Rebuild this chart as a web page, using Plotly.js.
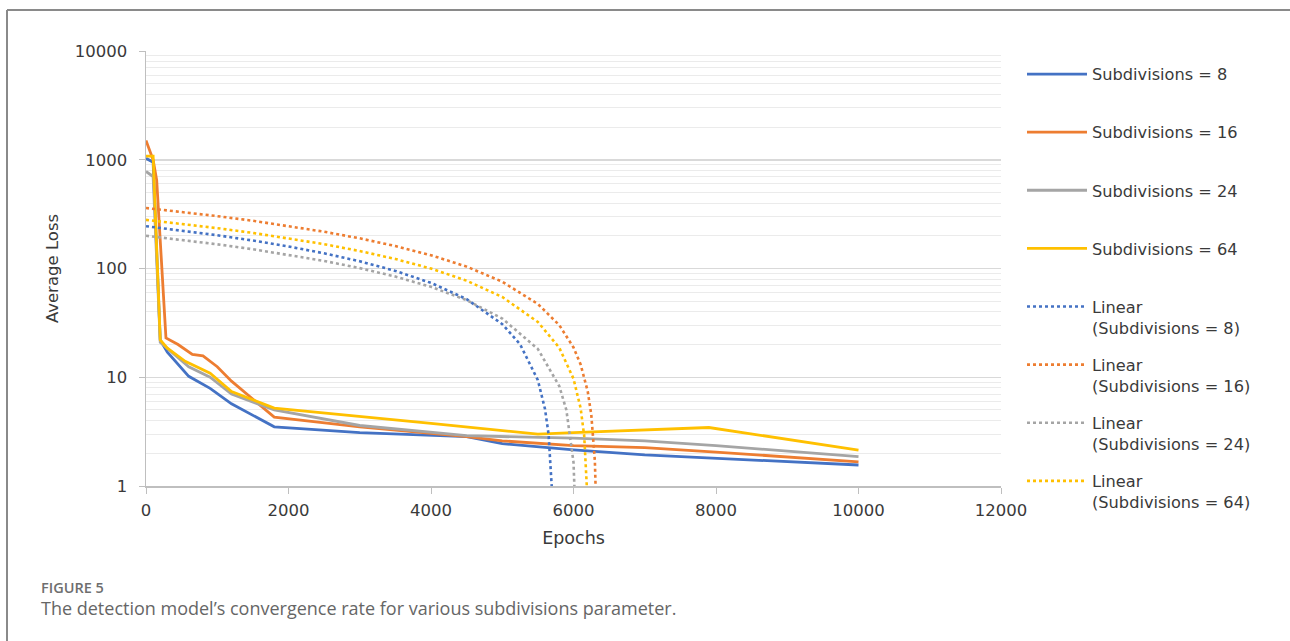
<!DOCTYPE html>
<html>
<head>
<meta charset="utf-8">
<script src="https://cdn.plot.ly/plotly-3.0.1.min.js"></script>
<style>
  html, body { margin: 0; padding: 0; background: #fff; }
  #chart { width: 1290px; height: 641px; }
</style>
</head>
<body>
<div id="chart"></div>
<script>
// ---- Data ----
const seriesNames = ["Subdivisions = 8", "Subdivisions = 16", "Subdivisions = 24", "Subdivisions = 64"];
const trendNames = ["Linear<br>(Subdivisions = 8)", "Linear<br>(Subdivisions = 16)", "Linear<br>(Subdivisions = 24)", "Linear<br>(Subdivisions = 64)"];
const colors = ["#4472C4", "#ED7D31", "#A5A5A5", "#FFC000"];

const epochs8  = [0, 100, 200, 300, 600, 900, 1200, 1800, 3000, 4500, 5000, 6000, 7000, 8000, 10000];
const loss8    = [1030, 950, 22, 17, 10.2, 7.9, 5.7, 3.5, 3.1, 2.85, 2.45, 2.15, 1.93, 1.8, 1.56];

const epochs16 = [0, 100, 150, 280, 450, 650, 800, 1000, 1200, 1800, 3000, 4500, 5000, 6000, 7000, 8000, 10000];
const loss16   = [1500, 1000, 650, 23, 20, 16.2, 15.7, 12.5, 9.2, 4.3, 3.5, 2.85, 2.6, 2.35, 2.25, 2.05, 1.67];

const epochs24 = [0, 100, 200, 300, 600, 900, 1200, 1800, 3000, 4500, 5000, 6000, 7000, 8000, 10000];
const loss24   = [780, 700, 21, 18.5, 12.5, 10, 7, 5.0, 3.6, 2.9, 2.85, 2.75, 2.6, 2.35, 1.86];

const epochs64 = [0, 100, 200, 300, 550, 900, 1200, 1800, 4000, 5500, 6000, 7900, 10000];
const loss64   = [1080, 1080, 22, 18.5, 14, 10.9, 7.4, 5.2, 3.77, 3.0, 3.1, 3.45, 2.14];

// Linear trend lines
const trendEpochs8  = [0, 500, 1000, 1500, 2000, 2500, 3000, 3500, 4000, 4500, 5000, 5250, 5500, 5600, 5650, 5700];
const trendLoss8    = [245, 223.6, 202.2, 180.8, 159.3, 137.9, 116.5, 95.1, 73.7, 52.3, 30.8, 20.1, 9.4, 5.1, 3.0, 0.86];

const trendEpochs16 = [0, 500, 1000, 1500, 2000, 2500, 3000, 3500, 4000, 4500, 5000, 5500, 5800, 6000, 6100, 6200, 6250, 6300, 6320];
const trendLoss16   = [360, 331.6, 303.1, 274.7, 246.3, 217.8, 189.4, 160.9, 132.5, 104.1, 75.6, 47.2, 30.2, 18.8, 13.1, 7.4, 4.5, 1.7, 0.57];

const trendEpochs24 = [0, 500, 1000, 1500, 2000, 2500, 3000, 3500, 4000, 4500, 5000, 5500, 5800, 5900, 6000, 6040];
const trendLoss24   = [200, 183.5, 166.9, 150.4, 133.9, 117.4, 100.8, 84.3, 67.8, 51.2, 34.7, 18.2, 8.3, 5.0, 1.65, 0.33];

const trendEpochs64 = [0, 500, 1000, 1500, 2000, 2500, 3000, 3500, 4000, 4500, 5000, 5500, 5800, 6000, 6100, 6150, 6200];
const trendLoss64   = [280, 257.5, 235, 212.4, 189.9, 167.4, 144.8, 122.3, 99.8, 77.3, 54.7, 32.2, 18.7, 9.7, 5.2, 2.9, 0.68];

const xTickVals = [0, 2000, 4000, 6000, 8000, 10000, 12000];
const xTickText = ["0", "2000", "4000", "6000", "8000", "10000", "12000"];
const yTickVals = [1, 10, 100, 1000, 10000];
const yTickText = ["1", "10", "100", "1000", "10000"];

const xTitle = "Epochs";
const yTitle = "Average Loss";
const figLabel = "FIGURE 5";
const caption = "The detection model’s convergence rate for various subdivisions parameter.";

// ---- Traces ----
const lineX = [epochs8, epochs16, epochs24, epochs64];
const lineY = [loss8, loss16, loss24, loss64];
const trX = [trendEpochs8, trendEpochs16, trendEpochs24, trendEpochs64];
const trY = [trendLoss8, trendLoss16, trendLoss24, trendLoss64];

const traces = [];
for (let i = 0; i < 4; i++) {
  traces.push({
    x: lineX[i], y: lineY[i], type: "scatter", mode: "lines",
    name: seriesNames[i] + "<br> ", legendgroup: "s" + i,
    line: { color: colors[i], width: 2.8 }, hoverinfo: "x+y"
  });
}
for (let i = 0; i < 4; i++) {
  traces.push({
    x: trX[i], y: trY[i], type: "scatter", mode: "lines",
    name: trendNames[i], legendgroup: "t" + i,
    line: { color: colors[i], width: 2.6, dash: "dot" }, hoverinfo: "x+y"
  });
}

const L = 146, R = 1001, T = 51, B = 486, W = 1290, H = 641;
const px = v => (v - L) / (R - L);
const py = v => (B - v) / (B - T);
const FONT = "'DejaVu Sans', 'Open Sans', sans-serif";
const CAPFONT = "'Open Sans', 'DejaVu Sans', sans-serif";

const layout = {
  width: W, height: H,
  margin: { l: L, r: W - R, t: T, b: H - B, pad: 0 },
  paper_bgcolor: "#ffffff", plot_bgcolor: "#ffffff",
  font: { family: FONT, color: "#3a3a3a", size: 16 },
  showlegend: true,
  legend: {
    x: px(1022), y: py(57), xanchor: "left", yanchor: "top",
    traceorder: "grouped", tracegroupgap: 13, valign: "top", maxheight: 620,
    font: { family: FONT, size: 16.2, color: "#3a3a3a" }, itemwidth: 60, bgcolor: "rgba(0,0,0,0)"
  },
  xaxis: {
    range: [0, 12000], tickvals: xTickVals, ticktext: xTickText, ticks: "outside", ticklen: 6, tickcolor: "#bfbfbf",
    showline: true, linecolor: "#bfbfbf", linewidth: 1.5, showgrid: false, zeroline: false,
    tickfont: { size: 16.5, color: "#3a3a3a" }, ticklabelstandoff: 3,
    title: { text: xTitle, font: { size: 17.5, color: "#3a3a3a" }, standoff: 12 }
  },
  yaxis: {
    type: "log", range: [0, 4], tickvals: yTickVals, ticktext: yTickText,
    ticks: "outside", ticklen: 6, tickcolor: "#bfbfbf",
    showline: true, linecolor: "#bfbfbf", linewidth: 1.5,
    showgrid: true, gridcolor: "#d9d9d9", gridwidth: 1.5, zeroline: false,
    minor: { dtick: "D1", showgrid: true, gridcolor: "#ebebeb", gridwidth: 1, ticks: "" },
    tickfont: { size: 16.5, color: "#3a3a3a" }, ticklabelstandoff: 8,
    title: { text: yTitle, font: { size: 16.5, color: "#3a3a3a" }, standoff: 12 }
  },
  shapes: [
    { type: "line", xref: "paper", yref: "paper", x0: px(7), x1: px(1295), y0: py(10), y1: py(10), line: { color: "#8a8a8a", width: 2 } },
    { type: "line", xref: "paper", yref: "paper", x0: px(7), x1: px(7), y0: py(10), y1: py(650), line: { color: "#8a8a8a", width: 2 } }
  ],
  annotations: [
    { xref: "paper", yref: "paper", x: px(39), y: py(587), xanchor: "left", yanchor: "middle", showarrow: false,
      text: figLabel, font: { family: CAPFONT, size: 14.5, weight: 600, color: "#6e6e6e" } },
    { xref: "paper", yref: "paper", x: px(39), y: py(608), xanchor: "left", yanchor: "middle", showarrow: false,
      text: caption, font: { family: CAPFONT, size: 18, color: "#666666" } }
  ]
};

Plotly.newPlot("chart", traces, layout, { displayModeBar: false, staticPlot: true });
</script>
</body>
</html>
